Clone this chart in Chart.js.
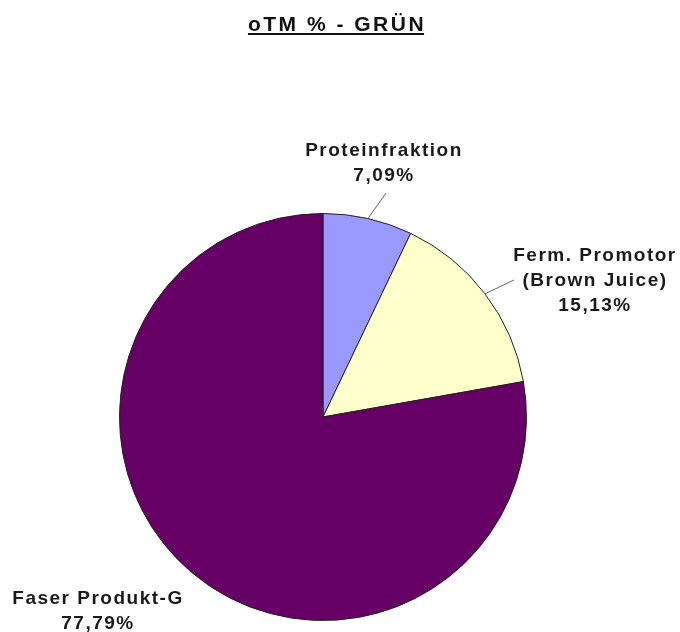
<!DOCTYPE html>
<html>
<head>
<meta charset="utf-8">
<script src="https://cdn.jsdelivr.net/npm/chart.js@4.4.1/dist/chart.umd.min.js"></script>
<style>
  body { margin: 0; background: #fff; }
  #pie { display: block; }
</style>
</head>
<body>
<canvas id="pie" width="680" height="632"></canvas>
<script>
// Datos del gráfico
const chartTitle = 'oTM % - GRÜN';
const categories = ['Proteinfraktion', 'Ferm. Promotor (Brown Juice)', 'Faser Produkt-G'];
const labelLines = [['Proteinfraktion'], ['Ferm. Promotor', '(Brown Juice)'], ['Faser Produkt-G']];
const shares = [7.09, 15.13, 77.79];
const sliceColors = ['#9999ff', '#ffffcc', '#660066'];

// Posición de cada etiqueta (línea base de la primera línea) y extremo de la línea guía
const labelAnchors = [
    { x: 384, y: 156, leader: { x: 386, y: 193 } },
    { x: 595, y: 261, leader: { x: 514, y: 280 } },
    { x: 98, y: 604, leader: null }
];
const lineHeight = 25;

function formatPercent(v) {
    return v.toFixed(2).replace('.', ',') + '%';
}

// Plugin para el título subrayado
const titlePlugin = {
    id: 'underlinedTitle',
    afterDraw(chart) {
        const { ctx } = chart;
        ctx.save();
        ctx.font = 'bold 21px "Liberation Sans", Arial, sans-serif';
        ctx.letterSpacing = '2.5px';
        ctx.fillStyle = '#111';
        ctx.textAlign = 'center';
        ctx.textBaseline = 'alphabetic';
        const cx = 337;
        ctx.fillText(chartTitle, cx, 31);
        const w = ctx.measureText(chartTitle).width;
        ctx.fillRect(cx - w / 2, 33, w - 2, 2);
        ctx.restore();
    }
};

// Plugin para las etiquetas de datos con líneas guía
const sliceLabelPlugin = {
    id: 'sliceLabels',
    afterDatasetsDraw(chart) {
        const { ctx } = chart;
        const meta = chart.getDatasetMeta(0);
        ctx.save();
        meta.data.forEach((arc, i) => {
            const anchor = labelAnchors[i];
            if (anchor.leader) {
                const mid = (arc.startAngle + arc.endAngle) / 2;
                const ex = arc.x + Math.cos(mid) * arc.outerRadius;
                const ey = arc.y + Math.sin(mid) * arc.outerRadius;
                ctx.strokeStyle = '#666';
                ctx.lineWidth = 1;
                ctx.beginPath();
                ctx.moveTo(ex, ey);
                ctx.lineTo(anchor.leader.x, anchor.leader.y);
                ctx.stroke();
            }
            ctx.font = 'bold 19px "Liberation Sans", Arial, sans-serif';
            ctx.letterSpacing = '1.5px';
            ctx.fillStyle = '#1a1a1a';
            ctx.textAlign = 'center';
            ctx.textBaseline = 'alphabetic';
            const lines = labelLines[i].concat([formatPercent(shares[i])]);
            lines.forEach((line, k) => {
                ctx.fillText(line, anchor.x, anchor.y + k * lineHeight);
            });
        });
        ctx.restore();
    }
};

const ctx = document.getElementById('pie').getContext('2d');
new Chart(ctx, {
    type: 'pie',
    data: {
        labels: categories,
        datasets: [{
            data: shares,
            backgroundColor: sliceColors,
            borderColor: '#222',
            borderWidth: 1
        }]
    },
    options: {
        responsive: false,
        animation: false,
        layout: {
            padding: { left: 119, right: 153, top: 213, bottom: 11 }
        },
        plugins: {
            legend: { display: false },
            tooltip: { enabled: false },
            title: { display: false }
        }
    },
    plugins: [titlePlugin, sliceLabelPlugin]
});
</script>
</body>
</html>
